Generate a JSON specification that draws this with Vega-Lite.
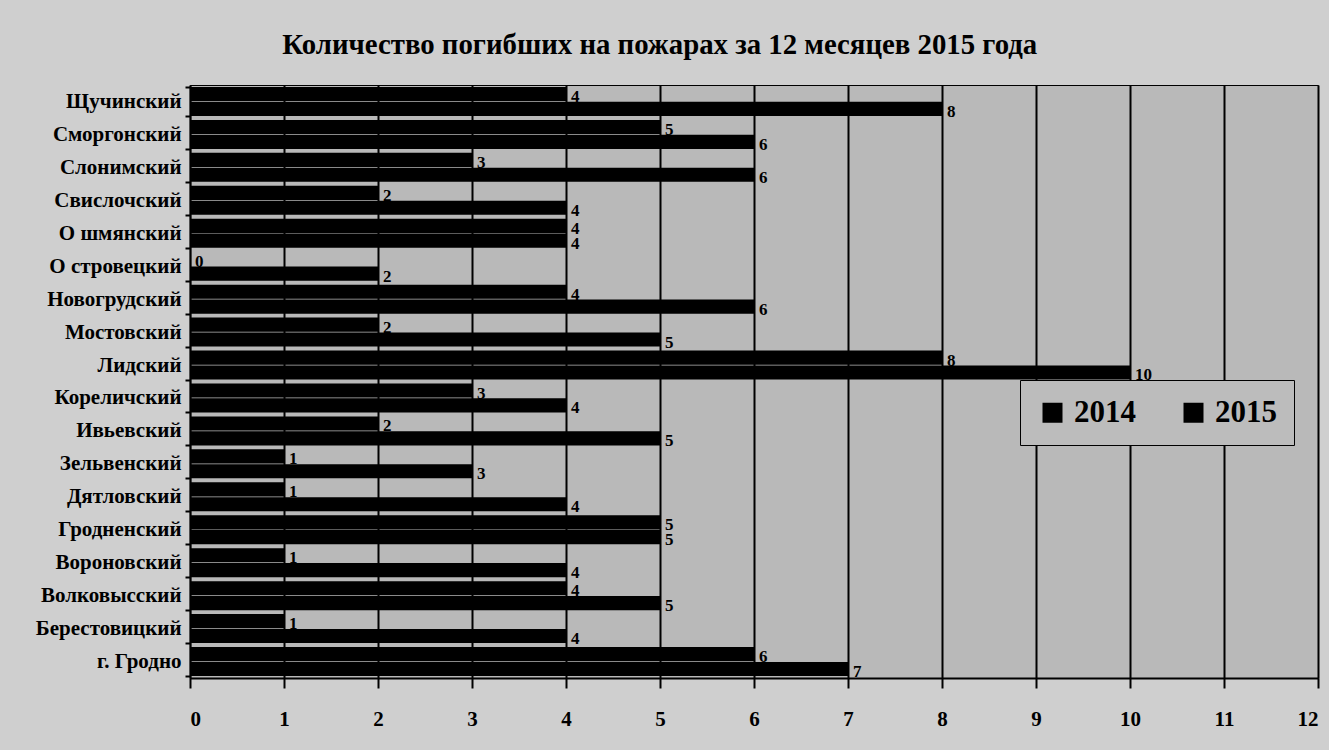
{
  "$schema": "https://vega.github.io/schema/vega-lite/v6.json",
  "width": 1128,
  "height": 593,
  "autosize": "none",
  "padding": {"left": 190, "top": 85, "right": 11, "bottom": 72},
  "background": "#cfcfcf",
  "title": {
    "text": "Количество погибших на пожарах за 12 месяцев 2015 года",
    "font": "Liberation Serif",
    "fontSize": 28.8,
    "fontWeight": "bold",
    "color": "#000000",
    "anchor": "start",
    "dx": 247,
    "offset": 14
  },
  "config": {
    "view": {"fill": "#b9b9b9", "stroke": "#000000", "strokeWidth": 1},
    "font": "Liberation Serif"
  },
  "data": {
    "values": [
      {"district": "Щучинский", "year": "2014", "value": 4},
      {"district": "Щучинский", "year": "2015", "value": 8},
      {"district": "Сморгонский", "year": "2014", "value": 5},
      {"district": "Сморгонский", "year": "2015", "value": 6},
      {"district": "Слонимский", "year": "2014", "value": 3},
      {"district": "Слонимский", "year": "2015", "value": 6},
      {"district": "Свислочский", "year": "2014", "value": 2},
      {"district": "Свислочский", "year": "2015", "value": 4},
      {"district": "О шмянский", "year": "2014", "value": 4},
      {"district": "О шмянский", "year": "2015", "value": 4},
      {"district": "О стровецкий", "year": "2014", "value": 0},
      {"district": "О стровецкий", "year": "2015", "value": 2},
      {"district": "Новогрудский", "year": "2014", "value": 4},
      {"district": "Новогрудский", "year": "2015", "value": 6},
      {"district": "Мостовский", "year": "2014", "value": 2},
      {"district": "Мостовский", "year": "2015", "value": 5},
      {"district": "Лидский", "year": "2014", "value": 8},
      {"district": "Лидский", "year": "2015", "value": 10},
      {"district": "Кореличский", "year": "2014", "value": 3},
      {"district": "Кореличский", "year": "2015", "value": 4},
      {"district": "Ивьевский", "year": "2014", "value": 2},
      {"district": "Ивьевский", "year": "2015", "value": 5},
      {"district": "Зельвенский", "year": "2014", "value": 1},
      {"district": "Зельвенский", "year": "2015", "value": 3},
      {"district": "Дятловский", "year": "2014", "value": 1},
      {"district": "Дятловский", "year": "2015", "value": 4},
      {"district": "Гродненский", "year": "2014", "value": 5},
      {"district": "Гродненский", "year": "2015", "value": 5},
      {"district": "Вороновский", "year": "2014", "value": 1},
      {"district": "Вороновский", "year": "2015", "value": 4},
      {"district": "Волковысский", "year": "2014", "value": 4},
      {"district": "Волковысский", "year": "2015", "value": 5},
      {"district": "Берестовицкий", "year": "2014", "value": 1},
      {"district": "Берестовицкий", "year": "2015", "value": 4},
      {"district": "г. Гродно", "year": "2014", "value": 6},
      {"district": "г. Гродно", "year": "2015", "value": 7}
    ]
  },
  "encoding": {
    "y": {
      "field": "district",
      "type": "nominal",
      "sort": null,
      "title": null,
      "scale": {"paddingInner": 0.12, "paddingOuter": 0.06},
      "axis": {
        "labelFont": "Liberation Serif",
        "labelFontSize": 21,
        "labelFontWeight": "bold",
        "labelColor": "#000000",
        "labelPadding": 4,
        "domainColor": "#000000",
        "domainWidth": 1.5,
        "tickBand": "extent",
        "tickColor": "#000000",
        "tickWidth": 2,
        "tickSize": 5,
        "grid": false
      }
    },
    "yOffset": {"field": "year", "type": "nominal", "scale": {"paddingInner": 0.05}},
    "x": {
      "field": "value",
      "type": "quantitative",
      "title": null,
      "scale": {"domain": [0, 12], "nice": false},
      "axis": {
        "values": [0, 1, 2, 3, 4, 5, 6, 7, 8, 9, 10, 11, 12],
        "labelFont": "Liberation Serif",
        "labelFontSize": 21,
        "labelFontWeight": "bold",
        "labelColor": "#000000",
        "labelPadding": 20,
        "domainColor": "#000000",
        "domainWidth": 2,
        "tickColor": "#000000",
        "tickWidth": 2,
        "tickSize": 10,
        "grid": true,
        "gridColor": "#000000",
        "gridWidth": 2,
        "gridOpacity": 1
      }
    }
  },
  "layer": [
    {
      "mark": {"type": "bar"},
      "encoding": {
        "color": {
          "field": "year",
          "type": "nominal",
          "title": null,
          "scale": {"range": ["#000000", "#000000"]},
          "legend": {
            "orient": "none",
            "legendX": 830,
            "legendY": 295,
            "direction": "horizontal",
            "columns": 2,
            "columnPadding": 42,
            "symbolType": "square",
            "symbolSize": 400,
            "symbolStrokeWidth": 0,
            "labelFont": "Liberation Serif",
            "labelFontSize": 31,
            "labelFontWeight": "bold",
            "labelColor": "#000000",
            "labelOffset": 6,
            "fillColor": "#bcbcbc",
            "strokeColor": "#000000",
            "padding": 17
          }
        }
      }
    },
    {
      "mark": {
        "type": "text",
        "align": "left",
        "baseline": "middle",
        "dx": 5,
        "dy": 3,
        "font": "Liberation Serif",
        "fontSize": 17,
        "fontWeight": "bold",
        "color": "#000000"
      },
      "encoding": {"text": {"field": "value", "type": "quantitative"}}
    }
  ]
}
